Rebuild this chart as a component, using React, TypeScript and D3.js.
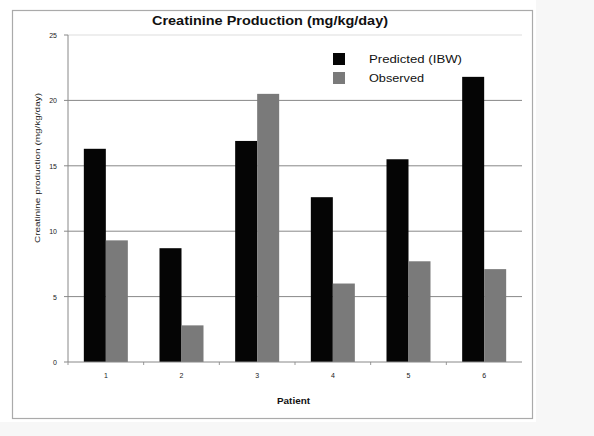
import React from "react";
import * as d3 from "d3";

const categories = ["1", "2", "3", "4", "5", "6"];
const predicted = [16.3, 8.7, 16.9, 12.6, 15.5, 21.8];
const observed = [9.3, 2.8, 20.5, 6.0, 7.7, 7.1];
const seriesNames = ["Predicted (IBW)", "Observed"];
const seriesColors = ["#050505", "#7a7a7a"];
const yTicks = [0, 5, 10, 15, 20, 25];

export default function App() {
  const W = 594, H = 436;
  const left = 68, right = 522, top = 35, bottom = 362;
  const x = d3.scaleBand<string>().domain(categories).range([left, right]);
  const y = d3.scaleLinear().domain([0, 25]).range([bottom, top]);
  const barW = 22;
  const font = "'Liberation Sans', Arial, sans-serif";
  const legendWidths = [93, 55];
  return (
    <svg width={W} height={H} style={{ position: "absolute", left: 0, top: 0, background: "#fff" }}>
      <rect x={536} y={0} width={58} height={436} fill="#f7f7f7" />
      <rect x={0} y={422} width={594} height={14} fill="#f7f7f7" />
      <rect x={12.5} y={10.5} width={520} height={408} fill="#fff" stroke="#aaa" strokeWidth={1.2} />
      <text x={152} y={25} textLength={236} lengthAdjust="spacingAndGlyphs" fontFamily={font} fontWeight="bold" fontSize={13} fill="#111">
        Creatinine Production (mg/kg/day)
      </text>
      {yTicks.map((t) => (
        <g key={t}>
          {t > 0 && (
            <line x1={left} x2={right} y1={y(t)} y2={y(t)} stroke={t === 25 ? "#ddd" : "#888"} strokeWidth={1} />
          )}
          <line x1={left - 4} x2={left} y1={y(t)} y2={y(t)} stroke="#888" />
          <text x={left - 11} y={y(t) + 3} textAnchor="end" fontFamily={font} fontSize={7} fill="#222">
            {t}
          </text>
        </g>
      ))}
      {categories.map((c, i) => {
        const cx = (x(c) as number) + x.bandwidth() / 2;
        return (
          <g key={c}>
            <rect x={cx - barW} y={y(predicted[i])} width={barW} height={bottom - y(predicted[i])} fill={seriesColors[0]} />
            <rect x={cx} y={y(observed[i])} width={barW} height={bottom - y(observed[i])} fill={seriesColors[1]} />
            <text x={cx} y={bottom + 16} textAnchor="middle" fontFamily={font} fontSize={7} fill="#222">
              {c}
            </text>
          </g>
        );
      })}
      {categories.map((c) => (
        <line key={"t" + c} x1={x(c) as number} x2={x(c) as number} y1={bottom} y2={bottom + 3} stroke="#999" />
      ))}
      <line x1={left} x2={left} y1={top} y2={bottom} stroke="#888" />
      <line x1={left} x2={right} y1={bottom} y2={bottom} stroke="#888" />
      <text x={277} y={404} textLength={33} lengthAdjust="spacingAndGlyphs" fontFamily={font} fontWeight="bold" fontSize={8.5} fill="#111">
        Patient
      </text>
      <text
        transform={`translate(40,243) rotate(-90)`}
        textLength={150}
        lengthAdjust="spacingAndGlyphs"
        fontFamily={font}
        fontSize={8}
        fill="#222"
      >
        Creatinine production (mg/kg/day)
      </text>
      {seriesNames.map((s, i) => (
        <g key={s}>
          <rect x={333} y={53 + i * 19} width={12} height={12} fill={seriesColors[i]} />
          <text x={369} y={63 + i * 19} textLength={legendWidths[i]} lengthAdjust="spacingAndGlyphs" fontFamily={font} fontSize={10.5} fill="#111">
            {s}
          </text>
        </g>
      ))}
    </svg>
  );
}
